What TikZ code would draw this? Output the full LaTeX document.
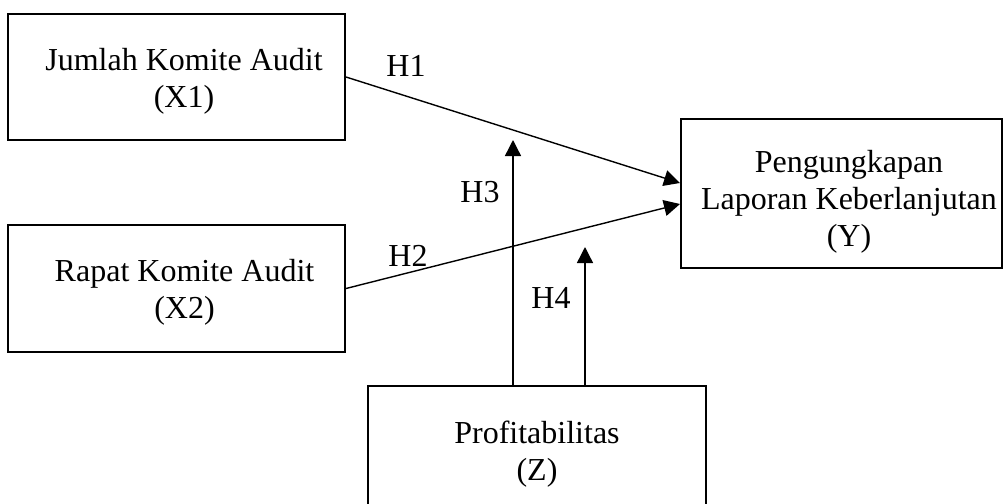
\documentclass[tikz,border=0pt]{standalone}
\usepackage{fontspec}
\setmainfont{Liberation Serif}
\usetikzlibrary{arrows.meta}
\tikzset{
  box/.style={draw, line width=1pt, inner sep=0pt},
  txt/.style={align=center, inner sep=0pt, font=\fontsize{16pt}{18.5pt}\selectfont},
  lbl/.style={inner sep=0pt, font=\fontsize{16pt}{18.5pt}\selectfont},
  arr/.style={line width=0.7pt, -{Triangle[length=8pt,width=8pt]}}
}
\begin{document}
\begin{tikzpicture}[x=0.5pt,y=-0.5pt]
\useasboundingbox (0,0) rectangle (1003,504);
\node[box, minimum width=168.5pt, minimum height=63pt] (x1) at (176.5,77) {};
\node[txt] (x1t) at (184,81) {Jumlah Komite Audit\\(X1)};
\node[box, minimum width=168.5pt, minimum height=63.5pt] (x2) at (176.5,288.5) {};
\node[txt] (x2t) at (184.5,292.5) {Rapat Komite Audit\\(X2)};
\node[box, minimum width=160.5pt, minimum height=74.5pt] (y) at (841.5,193.5) {};
\node[txt] (yt) at (849,201.5) {Pengungkapan\\Laporan Keberlanjutan\\(Y)};
\node[box, minimum width=169pt, minimum height=64pt] (z) at (537,450) {};
\node[txt] (zt) at (537,454.5) {Profitabilitas\\(Z)};
\coordinate (h3end) at (513,140);
\coordinate (h4end) at (585,247);
\draw[arr] (x1.east) -- ([yshift=5.25pt]y.west);
\draw[arr] (x2.east) -- ([yshift=-5.25pt]y.west);
\draw[arr] ([xshift=-12pt]z.north) -- (h3end);
\draw[arr] ([xshift=24pt]z.north) -- (h4end);
\node[lbl] (h1) at (406,66) {H1};
\node[lbl] (h2) at (408,256) {H2};
\node[lbl] (h3) at (480,192) {H3};
\node[lbl] (h4) at (551,298) {H4};
\end{tikzpicture}
\end{document}
